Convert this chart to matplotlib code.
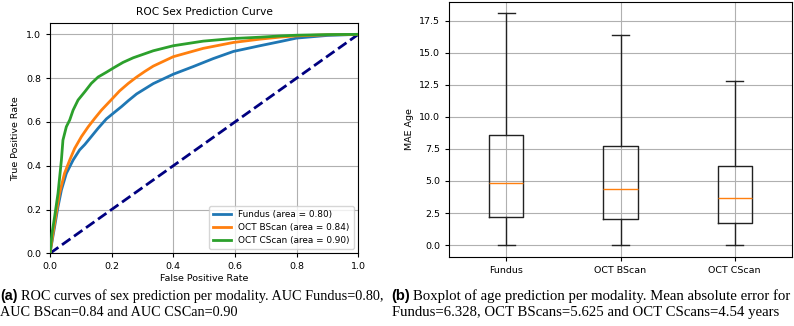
import matplotlib
matplotlib.use("Agg")
import matplotlib.pyplot as plt

# ---------------- data ----------------
fundus_fpr = [0.0, 0.015, 0.026, 0.037, 0.053, 0.075, 0.096, 0.113, 0.134, 0.156, 0.183,
              0.21, 0.232, 0.254, 0.281, 0.335, 0.40, 0.465, 0.529, 0.595, 0.681, 0.75,
              0.80, 0.90, 1.0]
fundus_tpr = [0.0, 0.122, 0.213, 0.289, 0.365, 0.426, 0.472, 0.497, 0.533, 0.571, 0.614,
              0.645, 0.67, 0.697, 0.728, 0.775, 0.818, 0.853, 0.889, 0.922, 0.948, 0.968,
              0.983, 0.995, 1.0]

bscan_fpr = [0.0, 0.0097, 0.02, 0.031, 0.047, 0.064, 0.08, 0.102, 0.124, 0.145, 0.167, 0.2,
             0.226, 0.254, 0.281, 0.308, 0.335, 0.40, 0.497, 0.595, 0.681, 0.75, 0.80,
             0.90, 1.0]
bscan_tpr = [0.0, 0.091, 0.182, 0.274, 0.365, 0.426, 0.479, 0.533, 0.578, 0.616, 0.654, 0.703,
             0.742, 0.776, 0.805, 0.831, 0.855, 0.898, 0.936, 0.963, 0.978, 0.988, 0.993,
             0.998, 1.0]

cscan_fpr = [0.0, 0.0065, 0.015, 0.026, 0.037, 0.042, 0.053, 0.064, 0.075, 0.091, 0.113,
             0.134, 0.156, 0.183, 0.21, 0.237, 0.27, 0.335, 0.40, 0.497, 0.595, 0.681,
             0.75, 0.80, 0.90, 1.0]
cscan_tpr = [0.0, 0.091, 0.167, 0.274, 0.426, 0.517, 0.578, 0.609, 0.654, 0.70, 0.738,
             0.776, 0.805, 0.827, 0.85, 0.872, 0.893, 0.925, 0.948, 0.969, 0.981, 0.987,
             0.993, 0.996, 0.999, 1.0]

roc_labels = ["Fundus (area = 0.80)", "OCT BScan (area = 0.84)", "OCT CScan (area = 0.90)"]

box_labels = ["Fundus", "OCT BScan", "OCT CScan"]
whislo = [0.0, 0.0, 0.0]
q1 = [2.18, 2.07, 1.74]
med = [4.82, 4.41, 3.66]
q3 = [8.56, 7.75, 6.17]
whishi = [18.07, 16.36, 12.78]

caption_a_bold = "(a)"
caption_a_line1 = "ROC curves of sex prediction per modality. AUC Fundus=0.80,"
caption_a_line2 = "AUC BScan=0.84 and AUC CSCan=0.90"
caption_b_bold = "(b)"
caption_b_line1 = "Boxplot of age prediction per modality. Mean absolute error for"
caption_b_line2 = "Fundus=6.328, OCT BScans=5.625 and OCT CScans=4.54 years"

# ---------------- figure ----------------
W, H = 794, 326
fig = plt.figure(figsize=(W / 100, H / 100), dpi=100)
plt.rcParams['font.family'] = 'DejaVu Sans'

tick_fs = 6.8
lab_fs = 6.8
grid_kw = dict(color='#b0b0b0', linewidth=0.8)

# ROC axes
ax1 = fig.add_axes([50 / W, 1 - 253.3 / H, (358.3 - 50) / W, (253.3 - 23.4) / H])
ax1.plot([0, 1], [0, 1], color='navy', lw=2, linestyle='--', zorder=2)
ax1.plot(fundus_fpr, fundus_tpr, color='#1f77b4', lw=2, label=roc_labels[0], zorder=3)
ax1.plot(bscan_fpr, bscan_tpr, color='#ff7f0e', lw=2, label=roc_labels[1], zorder=3)
ax1.plot(cscan_fpr, cscan_tpr, color='#2ca02c', lw=2, label=roc_labels[2], zorder=3)
ax1.set_xlim(0.0, 1.0)
ax1.set_ylim(0.0, 1.05)
ax1.set_xticks([0.0, 0.2, 0.4, 0.6, 0.8, 1.0])
ax1.set_yticks([0.0, 0.2, 0.4, 0.6, 0.8, 1.0])
ax1.tick_params(labelsize=tick_fs, length=3)
ax1.set_xlabel("False Positive Rate", fontsize=lab_fs, labelpad=2)
ax1.set_ylabel("True Positive Rate", fontsize=lab_fs, labelpad=4)
ax1.set_title("ROC Sex Prediction Curve", fontsize=7.6, pad=6)
ax1.grid(True, **grid_kw)
ax1.set_axisbelow(True)
leg = ax1.legend(loc='lower right', fontsize=6.4, framealpha=0.8, borderpad=0.45,
                 handlelength=2.0, labelspacing=0.45)

# Box plot axes
ax2 = fig.add_axes([449.3 / W, 1 - 256.7 / H, (791.7 - 449.3) / W, (256.7 - 1.5) / H])
stats = []
for i in range(3):
    stats.append(dict(label=box_labels[i], whislo=whislo[i], q1=q1[i], med=med[i],
                      q3=q3[i], whishi=whishi[i], fliers=[]))
ax2.bxp(stats, showfliers=False,
        boxprops=dict(color='#222222', linewidth=1),
        whiskerprops=dict(color='#222222', linewidth=1),
        capprops=dict(color='#222222', linewidth=1),
        medianprops=dict(color='#ff7f0e', linewidth=1))
ax2.set_yticks([0.0, 2.5, 5.0, 7.5, 10.0, 12.5, 15.0, 17.5])
ax2.set_yticklabels(["0.0", "2.5", "5.0", "7.5", "10.0", "12.5", "15.0", "17.5"])
ax2.set_ylim(-0.905, 19.0)
ax2.set_xlim(0.5, 3.5)
ax2.tick_params(labelsize=tick_fs, length=3)
ax2.set_ylabel("MAE Age", fontsize=lab_fs, labelpad=4)
ax2.grid(True, **grid_kw)
ax2.set_axisbelow(True)

# ---------------- captions ----------------
fig.canvas.draw()
renderer = fig.canvas.get_renderer()


def caption(x_px, y1_px, y2_px, bold, line1, line2, fs):
    tb = fig.text(x_px / W, 1 - y1_px / H, bold, fontsize=fs, fontweight='bold',
                  family='Liberation Sans', va='baseline', ha='left')
    bb = tb.get_window_extent(renderer)
    fig.text((bb.x1 + 3) / W, 1 - y1_px / H, line1, fontsize=fs,
             family='Liberation Serif', va='baseline', ha='left')
    fig.text(x_px / W, 1 - y2_px / H, line2, fontsize=fs,
             family='Liberation Serif', va='baseline', ha='left')


caption(0.5, 300, 316, caption_a_bold, caption_a_line1, caption_a_line2, 10.3)
caption(391.5, 300, 316, caption_b_bold, caption_b_line1, caption_b_line2, 10.6)

fig.savefig("out.png", dpi=100)
